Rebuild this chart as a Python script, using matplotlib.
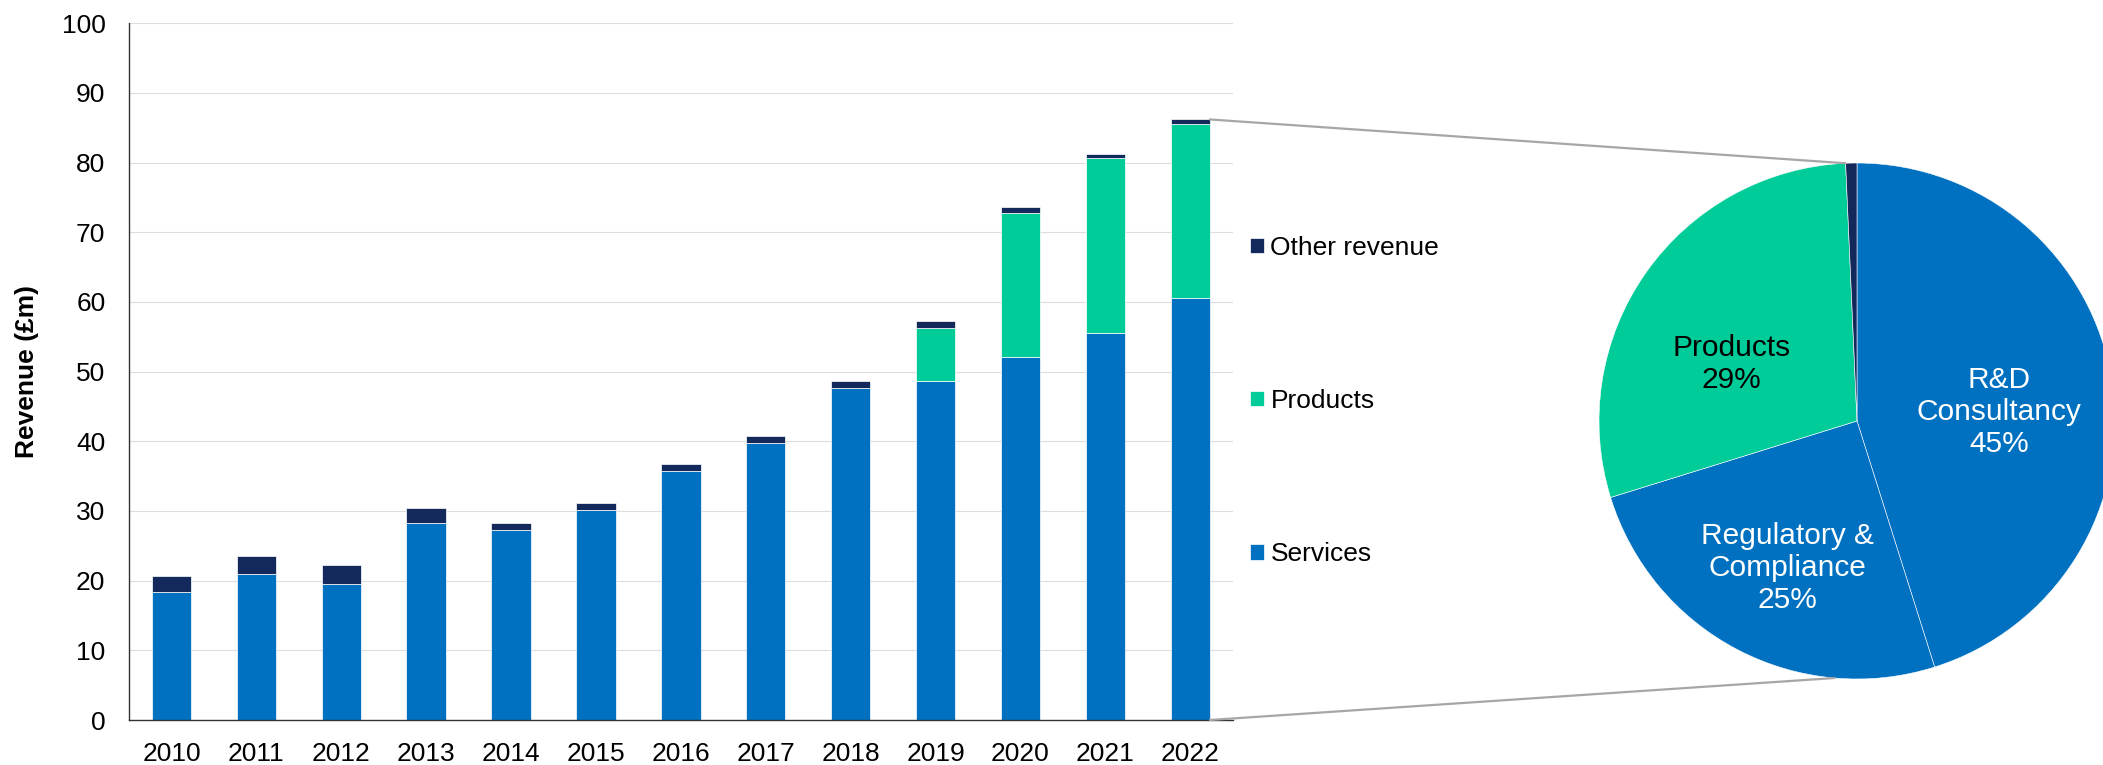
import numpy as np
import matplotlib
matplotlib.use("Agg")
import matplotlib.pyplot as plt
from matplotlib.patches import ConnectionPatch

plt.rcParams['font.family'] = ['Liberation Sans', 'DejaVu Sans']

# Annual revenue by stream (£m)
years = ['2010', '2011', '2012', '2013', '2014', '2015', '2016',
         '2017', '2018', '2019', '2020', '2021', '2022']
services = [18.4, 20.9, 19.5, 28.3, 27.2, 30.1, 35.8, 39.7, 47.6, 48.6, 52.1, 55.6, 60.6]
products = [0, 0, 0, 0, 0, 0, 0, 0, 0, 7.6, 20.6, 25.0, 25.0]
other = [2.3, 2.6, 2.8, 2.2, 1.1, 1.0, 1.0, 1.0, 1.0, 1.0, 0.9, 0.6, 0.6]

# 2022 revenue split (%)
pie_names = ['R&D\nConsultancy', 'Regulatory &\nCompliance', 'Products', 'Other revenue']
pie_shares = [45, 25, 29, 0.7]

C_SERV = '#0070C0'
C_PROD = '#00CC99'
C_OTHER = '#13295B'
FS = 19
FS_PIE = 21.5

W, H = 2103, 765
fig = plt.figure(figsize=(W / 100, H / 100), dpi=100)

# ---- stacked bar chart ----
ax = fig.add_axes([129 / W, 45 / H, 1103.7 / W, 696.7 / H])
x = np.arange(len(years))
bw = 0.463
serv = np.array(services)
prod = np.array(products)
oth = np.array(other)
edge = dict(edgecolor='white', linewidth=0.5)
b_serv = ax.bar(x, serv, bw, color=C_SERV, label='Services', **edge)
b_prod = ax.bar(x, prod, bw, bottom=serv, color=C_PROD, label='Products', **edge)
b_oth = ax.bar(x, oth, bw, bottom=serv + prod, color=C_OTHER, label='Other revenue', **edge)

ax.set_xlim(-0.5, len(years) - 0.5)
ax.set_ylim(0, 100)
ax.set_yticks(np.arange(0, 101, 10))
ax.set_xticks(x)
ax.set_xticklabels(years)
ax.tick_params(axis='both', length=0, labelsize=FS, colors='black')
ax.tick_params(axis='y', pad=17)
ax.tick_params(axis='x', pad=15.5)
ax.set_axisbelow(True)
ax.grid(axis='y', color='#DDDDDD', linewidth=0.8)
for s in ('top', 'right'):
    ax.spines[s].set_visible(False)
for s in ('left', 'bottom'):
    ax.spines[s].set_color('#333333')
    ax.spines[s].set_linewidth(1.0)

ax.set_ylabel('Revenue (£m)', fontsize=FS, fontweight='bold', va='center')
ax.yaxis.set_label_coords(-0.0924, 0.5)

fs_px = FS * 100 / 72
leg = fig.legend(handles=[b_oth, b_prod, b_serv],
                 labels=['Other revenue', 'Products', 'Services'],
                 loc='center left', bbox_to_anchor=(1250 / W, 1 - 401 / H),
                 frameon=False, fontsize=FS, borderpad=0, borderaxespad=0,
                 handlelength=14 / fs_px, handleheight=14 / fs_px,
                 handletextpad=6.5 / fs_px, labelspacing=4.9)

# ---- pie of the latest year ----
pax = fig.add_axes([1599 / W, 86 / H, 516 / W, 516 / H])
wedges, _ = pax.pie(pie_shares, colors=[C_SERV, C_SERV, C_PROD, C_OTHER],
                    startangle=90, counterclock=False, radius=1,
                    wedgeprops=dict(edgecolor='white', linewidth=0.4))
pax.set_xlim(-1, 1)
pax.set_ylim(-1, 1)
pax.set_aspect('auto')
pax.axis('off')

total = sum(pie_shares)
label_pos = [(0.55, 0.035), (-0.271, -0.570), (-0.488, 0.221)]
label_col = ['white', 'white', 'black']
for name, share, pos, col in zip(pie_names[:3], pie_shares[:3], label_pos, label_col):
    pax.text(pos[0], pos[1], f'{name}\n{share / total * 100:.0f}%', ha='center', va='center',
             fontsize=FS_PIE, color=col, linespacing=1.2)

# connector lines from the 2022 bar to the pie
top_ang = np.deg2rad(90 + 360 * pie_shares[-1] / total)
bot_ang = np.deg2rad(-95)
last = len(years) - 1
for yv, ang in ((serv[last] + prod[last] + oth[last], top_ang), (0, bot_ang)):
    con = ConnectionPatch(xyA=(last + bw / 2, yv), coordsA=ax.transData,
                          xyB=(np.cos(ang), np.sin(ang)), coordsB=pax.transData,
                          color='#A6A6A6', linewidth=1.6)
    fig.add_artist(con)

fig.savefig('out.png', dpi=100)
